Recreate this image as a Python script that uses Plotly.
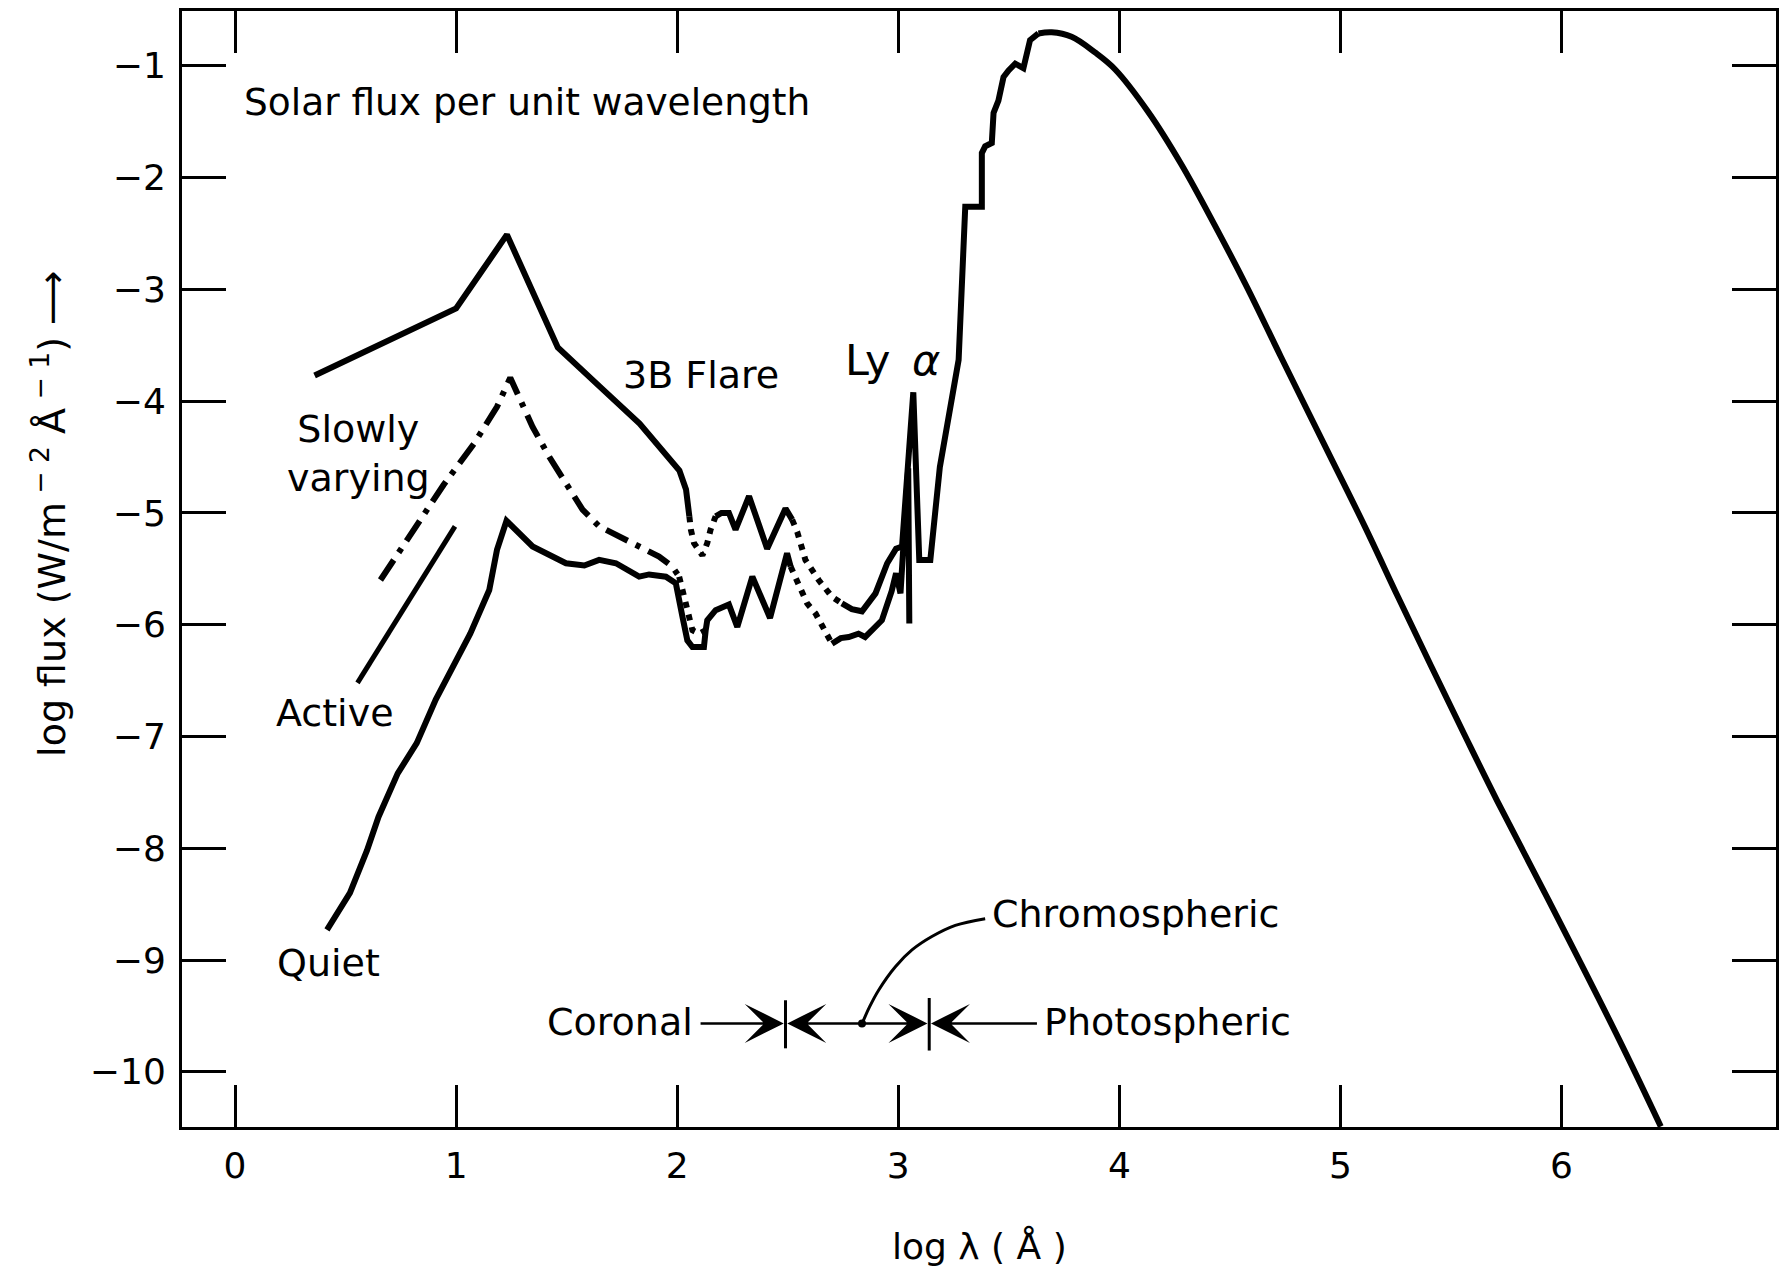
import plotly.graph_objects as go

# ---------------- spectra (log10 wavelength in Å, log10 flux) ----------------
# 3B flare: solid stretches and the dotted interpolated stretches between them
flare_a_x = [0.36, 1.00, 1.23, 1.34, 1.46, 1.65, 1.83, 2.01, 2.04, 2.055]
flare_a_y = [-3.77, -3.17, -2.51, -3.00, -3.52, -3.87, -4.20, -4.62, -4.79, -5.03]
flare_dot1_x = [2.055, 2.062, 2.076, 2.114, 2.136, 2.151, 2.174]
flare_dot1_y = [-5.03, -5.15, -5.27, -5.38, -5.27, -5.15, -5.03]
flare_b_x = [2.174, 2.20, 2.234, 2.264, 2.325, 2.37, 2.407, 2.49, 2.52]
flare_b_y = [-5.03, -5.00, -5.00, -5.15, -4.85, -5.10, -5.32, -4.96, -5.06]
flare_dot2_x = [2.52, 2.543, 2.58, 2.64, 2.70, 2.745]
flare_dot2_y = [-5.06, -5.17, -5.42, -5.60, -5.75, -5.81]
# Lyman-alpha spike and the stepped rise towards the visible
flare_c_x = [2.745, 2.79, 2.836, 2.897, 2.95, 2.99, 3.017, 3.068, 3.095, 3.145,
             3.188, 3.233, 3.273, 3.303, 3.378, 3.378, 3.393, 3.423, 3.431, 3.453,
             3.476, 3.499, 3.529, 3.566, 3.581, 3.596, 3.634]
flare_c_y = [-5.81, -5.86, -5.88, -5.72, -5.45, -5.32, -5.30, -3.92, -5.42, -5.42,
             -4.59, -4.08, -3.63, -2.26, -2.26, -1.78, -1.72, -1.69, -1.42, -1.31,
             -1.10, -1.04, -0.98, -1.02, -0.89, -0.77, -0.71]
# smooth photospheric continuum beyond the peak
planck_x = [3.634, 3.694, 3.784, 3.89, 3.98, 4.13, 4.28, 4.43, 4.58, 4.73,
            4.94, 5.11, 5.26, 5.41, 5.56, 5.71, 5.94, 6.26, 6.449]
planck_y = [-0.71, -0.70, -0.74, -0.88, -1.03, -1.41, -1.88, -2.42, -2.99, -3.60,
            -4.44, -5.12, -5.75, -6.37, -6.98, -7.58, -8.46, -9.71, -10.49]

# Quiet sun
quiet_a_x = [0.416, 0.52, 0.597, 0.649, 0.736, 0.822, 0.908, 1.064, 1.150, 1.185,
             1.228, 1.346, 1.497, 1.58, 1.647, 1.723, 1.828, 1.873, 1.949, 1.994,
             2.024, 2.046, 2.069, 2.121, 2.129, 2.136, 2.174, 2.234, 2.272, 2.34,
             2.42, 2.497, 2.513]
quiet_a_y = [-8.73, -8.40, -8.02, -7.72, -7.33, -7.06, -6.67, -6.08, -5.69, -5.33,
             -5.07, -5.30, -5.45, -5.47, -5.42, -5.45, -5.57, -5.55, -5.57, -5.63,
             -5.93, -6.14, -6.20, -6.20, -6.05, -5.96, -5.87, -5.82, -6.02, -5.57,
             -5.94, -5.36, -5.48]
quiet_dot_x = [2.513, 2.535, 2.565, 2.588, 2.626, 2.66, 2.70]
quiet_dot_y = [-5.48, -5.57, -5.69, -5.81, -5.90, -6.03, -6.17]
quiet_b_x = [2.70, 2.74, 2.776, 2.82, 2.85, 2.926, 2.97, 2.99, 3.01, 3.045, 3.05]
quiet_b_y = [-6.17, -6.12, -6.11, -6.08, -6.11, -5.96, -5.70, -5.54, -5.72, -4.60, -5.99]

# Slowly varying component (dash-dot, then dotted)
slow_x = [0.658, 0.787, 0.943, 1.081, 1.185, 1.245, 1.317, 1.346, 1.422, 1.497,
          1.572, 1.647, 1.723, 1.828, 1.918, 1.978, 2.009]
slow_y = [-5.60, -5.21, -4.75, -4.38, -4.05, -3.79, -4.11, -4.23, -4.50, -4.73,
          -4.97, -5.12, -5.20, -5.30, -5.39, -5.48, -5.57]
slow_dot_x = [2.009, 2.024, 2.039, 2.051, 2.069, 2.099, 2.129]
slow_dot_y = [-5.57, -5.69, -5.81, -5.93, -6.05, -6.08, -6.05]

# Active region
active_x = [0.554, 0.995]
active_y = [-6.52, -5.12]

# ---------------- emission-region boundaries ----------------
bar_y = -9.567
coronal_edge = 2.49
photo_edge = 3.14
coronal_tick_y = [-9.36, -9.79]
photo_tick_y = [-9.34, -9.81]
chromo_mid = 2.836
coronal_text_end = 2.099
photo_text_start = 3.634
chromo_lead_x = [2.836, 2.87, 2.911, 2.987, 3.062, 3.152, 3.258, 3.393]
chromo_lead_y = [-9.57, -9.42, -9.27, -9.06, -8.91, -8.79, -8.69, -8.63]

# ---------------- axes ----------------
x_ticks = [0, 1, 2, 3, 4, 5, 6]
x_ticklabels = ["0", "1", "2", "3", "4", "5", "6"]
y_ticks = [-1, -2, -3, -4, -5, -6, -7, -8, -9, -10]
y_ticklabels = ["\u22121", "\u22122", "\u22123", "\u22124", "\u22125",
                "\u22126", "\u22127", "\u22128", "\u22129", "\u221210"]

FONT = "DejaVu Sans"
INK = "black"
LW = 6
DOT = "6px,7px"
DASHDOT = "24px,9px,5px,9px"

fig = go.Figure()


def curve(x, y, dash="solid", width=LW, shape="linear"):
    fig.add_trace(go.Scatter(x=x, y=y, mode="lines", showlegend=False,
                             hoverinfo="skip",
                             line=dict(color=INK, width=width, dash=dash,
                                       shape=shape)))


curve(flare_a_x, flare_a_y)
curve(flare_dot1_x, flare_dot1_y, DOT)
curve(flare_b_x, flare_b_y)
curve(flare_dot2_x, flare_dot2_y, DOT)
curve(flare_c_x, flare_c_y)
curve(planck_x, planck_y, shape="spline")

curve(quiet_a_x, quiet_a_y)
curve(quiet_dot_x, quiet_dot_y, DOT)
curve(quiet_b_x, quiet_b_y)

curve(slow_x, slow_y, DASHDOT)
curve(slow_dot_x, slow_dot_y, DOT)

curve(active_x, active_y, width=5)

# boundary tick marks and chromospheric leader
curve([coronal_edge, coronal_edge], coronal_tick_y, width=3)
curve([photo_edge, photo_edge], photo_tick_y, width=3)
curve(chromo_lead_x, chromo_lead_y, width=3, shape="spline")
fig.add_trace(go.Scatter(x=[chromo_mid], y=[bar_y], mode="markers",
                         showlegend=False, hoverinfo="skip",
                         marker=dict(color=INK, size=8)))


def arrow(tip, tail):
    fig.add_annotation(x=tip, y=bar_y, ax=tail, ay=bar_y,
                       xref="x", yref="y", axref="x", ayref="y",
                       text="", showarrow=True, arrowhead=3, arrowsize=2.6,
                       arrowwidth=2.5, arrowcolor=INK, standoff=0, startstandoff=0)


arrow(coronal_edge - 0.008, coronal_text_end)
arrow(coronal_edge + 0.008, chromo_mid)
arrow(photo_edge - 0.008, chromo_mid)
arrow(photo_edge + 0.008, photo_text_start)


def label(text, x, y, anchor="center", size=38):
    fig.add_annotation(x=x, y=y, xref="x", yref="y", text=text, showarrow=False,
                       xanchor=anchor, yanchor="middle",
                       font=dict(family=FONT, size=size, color=INK))


label("Solar flux per unit wavelength", 0.031, -1.32, "left", 37.5)
label("3B Flare", 1.747, -3.77, "left")
label("Ly\u2002<i>\u03b1</i>", 2.748, -3.63, "left", 43)
label("Slowly<br>varying", 0.56, -4.47)
label("Active", 0.452, -6.79)
label("Quiet", 0.423, -9.03)
label("Coronal", 1.742, -9.555)
label("Photospheric", 4.218, -9.555)
label("Chromospheric", 4.074, -8.59)

# axis titles
fig.add_annotation(xref="paper", yref="paper", x=0.5, y=-0.1066,
                   text="log \u03bb ( \u00c5 )", showarrow=False,
                   xanchor="center", yanchor="middle",
                   font=dict(family=FONT, size=36, color=INK))
fig.add_annotation(xref="paper", yref="paper", x=-0.083, y=0.55, textangle=-90,
                   text="log flux (W/m<sup> \u2212 2</sup> \u00c5<sup> \u2212 1</sup>) \u27f6",
                   showarrow=False, xanchor="center", yanchor="middle",
                   font=dict(family=FONT, size=38, color=INK))

axis_common = dict(showgrid=False, zeroline=False, showline=True, linecolor=INK,
                   linewidth=3, mirror="ticks", ticks="inside", tickcolor=INK,
                   tickwidth=3, tickfont=dict(family=FONT, size=36, color=INK))

fig.update_xaxes(range=[-0.2397, 6.970], tickvals=x_ticks, ticktext=x_ticklabels,
                 ticklen=42, ticklabelstandoff=5, **axis_common)
fig.update_yaxes(range=[-10.494, -0.509], tickvals=y_ticks, ticktext=y_ticklabels,
                 ticklen=44, ticklabelstandoff=6, **axis_common)

fig.update_layout(width=1781, height=1268,
                  margin=dict(l=182, r=2, t=11, b=141),
                  paper_bgcolor="white", plot_bgcolor="white",
                  font=dict(family=FONT, color=INK))

fig.write_html("out.html")
